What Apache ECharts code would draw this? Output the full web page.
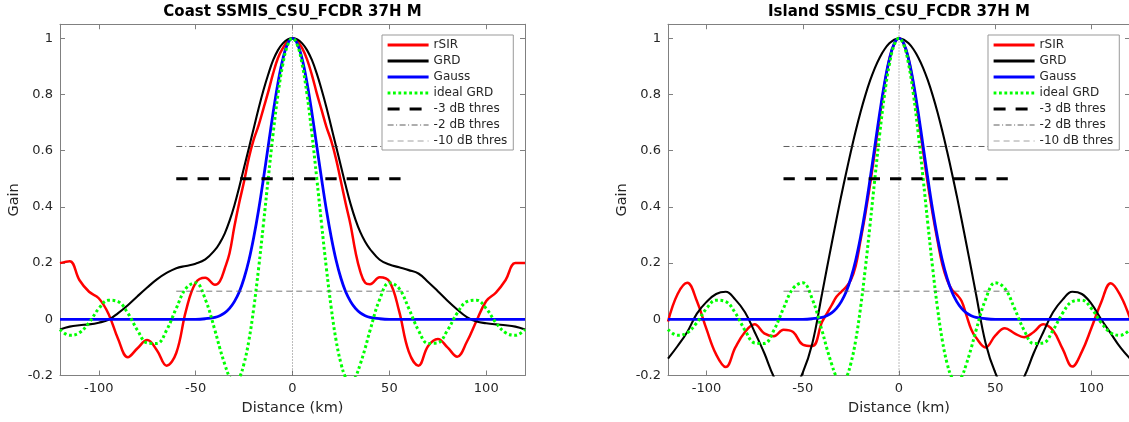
<!DOCTYPE html>
<html><head><meta charset="utf-8">
<script src="https://cdn.jsdelivr.net/npm/echarts@6/dist/echarts.min.js"></script>
<style>html,body{margin:0;padding:0;background:#fff}#c{width:1129px;height:422px}</style>
</head><body><div id="c"></div>
<script>
// ---- data ----
const distance = [-120,-115,-110,-105,-100,-95,-90,-85,-80,-75,-70,-65,-60,-55,-50,-45,-40,
  -37.5,-35,-32.5,-30,-27.5,-25,-22.5,-20,-17.5,-15,-12.5,-10,-7.5,-5,-2.5,0,
  2.5,5,7.5,10,12.5,15,17.5,20,22.5,25,27.5,30,32.5,35,37.5,
  40,45,50,55,60,65,70,75,80,85,90,95,100,105,110,115,120];

const coastRSIR = [0.20,0.207,0.14,0.098,0.075,0.02,-0.07,-0.135,-0.103,-0.074,-0.11,-0.165,-0.12,0.03,0.13,0.148,0.123,
  0.135,0.18,0.235,0.33,0.415,0.49,0.575,0.64,0.69,0.75,0.81,0.875,0.93,0.965,0.99,1,
  0.99,0.965,0.925,0.87,0.805,0.745,0.685,0.635,0.57,0.49,0.41,0.335,0.24,0.17,0.13,
  0.125,0.15,0.135,0.03,-0.115,-0.165,-0.095,-0.07,-0.1,-0.133,-0.08,-0.005,0.065,0.095,0.14,0.2,0.2];

const coastGRD = [-0.036,-0.026,-0.021,-0.018,-0.012,-0.002,0.022,0.05,0.082,0.113,0.142,0.165,0.182,0.19,0.198,0.213,0.247,
  0.272,0.305,0.35,0.405,0.47,0.54,0.61,0.68,0.75,0.815,0.872,0.922,0.958,0.982,0.996,1,
  0.996,0.982,0.958,0.923,0.875,0.818,0.755,0.685,0.615,0.545,0.475,0.41,0.355,0.31,0.276,
  0.25,0.212,0.195,0.185,0.175,0.163,0.133,0.1,0.066,0.035,0.008,-0.008,-0.014,-0.018,-0.021,-0.026,-0.036];

const gauss = [0,0,0,0,0,0,0,0,0,0,0,0,0,0,0,0.002,0.007,
  0.013,0.023,0.039,0.063,0.097,0.146,0.21,0.292,0.389,0.5,0.618,0.735,0.841,0.926,0.981,1,
  0.981,0.926,0.841,0.735,0.618,0.5,0.389,0.292,0.21,0.146,0.097,0.063,0.039,0.023,0.013,
  0.007,0.002,0,0,0,0,0,0,0,0,0,0,0,0,0,0,0];

const idealGRD = [-0.036,-0.057,-0.048,-0.012,0.038,0.068,0.063,0.022,-0.039,-0.084,-0.086,-0.039,0.039,0.11,0.13,0.071,-0.04,
  -0.103,-0.159,-0.205,-0.225,-0.208,-0.157,-0.075,0.04,0.181,0.339,0.503,0.661,0.8,0.907,0.976,1,
  0.976,0.907,0.8,0.661,0.503,0.339,0.181,0.04,-0.075,-0.157,-0.208,-0.225,-0.205,-0.159,-0.103,
  -0.04,0.071,0.13,0.11,0.039,-0.039,-0.086,-0.084,-0.039,0.022,0.063,0.068,0.038,-0.012,-0.048,-0.057,-0.036];

const islandRSIR = [-0.008,0.09,0.13,0.065,-0.035,-0.125,-0.17,-0.1,-0.045,-0.018,-0.05,-0.06,-0.037,-0.045,-0.09,-0.095,-0.01,
  0.02,0.05,0.08,0.098,0.115,0.14,0.19,0.28,0.375,0.48,0.6,0.72,0.835,0.925,0.98,1,
  0.98,0.925,0.835,0.72,0.6,0.48,0.375,0.28,0.195,0.14,0.105,0.088,0.065,0.015,-0.035,
  -0.065,-0.1,-0.058,-0.032,-0.05,-0.064,-0.045,-0.018,-0.04,-0.105,-0.168,-0.115,-0.03,0.06,0.128,0.085,0.004];

const islandGRD = [-0.14,-0.095,-0.045,0.02,0.062,0.09,0.098,0.07,0.025,-0.045,-0.12,-0.205,-0.26,-0.25,-0.19,-0.085,0.09,
  0.18,0.268,0.355,0.44,0.52,0.597,0.67,0.737,0.797,0.85,0.895,0.932,0.961,0.982,0.995,1,
  0.995,0.982,0.961,0.932,0.895,0.85,0.797,0.737,0.67,0.597,0.52,0.44,0.355,0.268,0.18,
  0.09,-0.085,-0.19,-0.25,-0.26,-0.205,-0.12,-0.045,0.025,0.07,0.098,0.09,0.055,0.0,-0.05,-0.1,-0.14];

const thresholdX = [-60, 60];
const thres3dB = [0.5, 0.5];
const thres2dB = [0.615, 0.615];
const thres10dB = [0.1, 0.1];
const zeroLineX = [0, 0];
const zeroLineY = [-0.2, 1.05];

const titles = ['Coast SSMIS_CSU_FCDR 37H M', 'Island SSMIS_CSU_FCDR 37H M'];
const legendNames = ['rSIR', 'GRD', 'Gauss', 'ideal GRD', '-3 dB thres', '-2 dB thres', '-10 dB thres'];
const xLabel = 'Distance (km)';
const yLabel = 'Gain';

// ---- chart ----
const FONT = 'DejaVu Sans';
const TXT = '#262626';
const AX = '#808080';
const gridsPos = [{left: 60, width: 465}, {left: 668, width: 462}];
const TOP = 24.25, HEIGHT = 351.25;

const pairs = (xs, ys) => xs.map((x, i) => [x, ys[i]]);

const xAxes = [], yAxes = [], series = [];
gridsPos.forEach((g, gi) => {
  xAxes.push({
    gridIndex: gi, type: 'value', min: -120, max: 120, splitNumber: 5, position: 'bottom',
    axisLine: {show: true, onZero: false, lineStyle: {color: AX, width: 1}},
    axisTick: {show: true, inside: true, length: 5, lineStyle: {color: AX}},
    axisLabel: {showMinLabel: false, showMaxLabel: false, fontSize: 13, color: TXT, fontFamily: FONT, margin: 7},
    splitLine: {show: false},
    name: xLabel, nameLocation: 'middle', nameGap: 25,
    nameTextStyle: {fontSize: 14.5, color: TXT, fontFamily: FONT}
  });
  xAxes.push({
    gridIndex: gi, type: 'value', min: -120, max: 120, splitNumber: 5, position: 'top',
    axisLine: {show: true, onZero: false, lineStyle: {color: AX, width: 1}},
    axisTick: {show: true, inside: true, length: 5, lineStyle: {color: AX}},
    axisLabel: {show: false}, splitLine: {show: false}
  });
  yAxes.push({
    gridIndex: gi, type: 'value', min: -0.2, max: 1.05, interval: 0.2, position: 'left',
    axisLine: {show: true, onZero: false, lineStyle: {color: AX, width: 1}},
    axisTick: {show: true, inside: true, length: 5, lineStyle: {color: AX}},
    axisLabel: {showMaxLabel: false, fontSize: 13, color: TXT, fontFamily: FONT, margin: 7,
      formatter: v => String(Math.round(v * 10) / 10)},
    splitLine: {show: false},
    name: yLabel, nameLocation: 'middle', nameGap: 38, nameRotate: 90,
    nameTextStyle: {fontSize: 14.5, color: TXT, fontFamily: FONT}
  });
  yAxes.push({
    gridIndex: gi, type: 'value', min: -0.2, max: 1.05, interval: 0.2, position: 'right',
    axisLine: {show: true, onZero: false, lineStyle: {color: AX, width: 1}},
    axisTick: {show: true, inside: true, length: 5, lineStyle: {color: AX}},
    axisLabel: {show: false}, splitLine: {show: false}
  });
});

function line(name, gi, xs, ys, ls, smooth) {
  return {
    name, type: 'line', xAxisIndex: gi * 2, yAxisIndex: gi * 2,
    data: pairs(xs, ys), symbol: 'none', showSymbol: false, smooth: smooth ? 0.4 : false,
    lineStyle: ls, itemStyle: {color: ls.color}, silent: true, animation: false,
    emphasis: {disabled: true}, clip: true
  };
}

const curveSets = [
  {rsir: coastRSIR, grd: coastGRD, gauss: gauss, ideal: idealGRD},
  {rsir: islandRSIR, grd: islandGRD, gauss: gauss, ideal: idealGRD}
];
curveSets.forEach((c, gi) => {
  series.push(line('zero', gi, zeroLineX, zeroLineY, {color: '#555', width: 0.8, type: [1, 2]}, false));
  series.push(line('rSIR', gi, distance, c.rsir, {color: '#ff0000', width: 2.5}, true));
  series.push(line('GRD', gi, distance, c.grd, {color: '#000000', width: 2.1}, true));
  series.push(line('Gauss', gi, distance, c.gauss, {color: '#0000ff', width: 2.8}, true));
  series.push(line('ideal GRD', gi, distance, c.ideal, {color: '#00ff00', width: 3, type: [2.8, 2.6]}, true));
  series.push(line('-3 dB thres', gi, thresholdX, thres3dB, {color: '#000000', width: 3, type: [11.3, 10]}, false));
  series.push(line('-2 dB thres', gi, thresholdX, thres2dB, {color: '#333', width: 0.8, type: [6, 3, 1, 3]}, false));
  series.push(line('-10 dB thres', gi, thresholdX, thres10dB, {color: '#555', width: 0.8, type: [6, 4]}, false));
});

const legendItems = [
  {name: 'rSIR', lineStyle: {width: 3}},
  {name: 'GRD', lineStyle: {width: 3}},
  {name: 'Gauss', lineStyle: {width: 3}},
  {name: 'ideal GRD', lineStyle: {width: 3}},
  {name: '-3 dB thres', lineStyle: {width: 3.2, type: [12, 10]}},
  {name: '-2 dB thres', lineStyle: {width: 0.8, color: '#333', type: [6, 2.5, 1, 2.5]}},
  {name: '-10 dB thres', lineStyle: {width: 0.8, color: '#888', type: [6, 4]}}
];

const legendBase = {
  orient: 'vertical', top: 35, data: legendItems, selectedMode: false,
  backgroundColor: '#fff', borderColor: '#999', borderWidth: 1, borderRadius: 0,
  padding: [4, 6, 3, 4], itemWidth: 41, itemHeight: 12, itemGap: 4,
  itemStyle: {opacity: 0},
  textStyle: {fontSize: 12, color: TXT, fontFamily: FONT}
};

const option = {
  animation: false,
  backgroundColor: '#fff',
  textStyle: {fontFamily: FONT},
  title: titles.map((t, i) => ({
    text: t, left: gridsPos[i].left + gridsPos[i].width / 2, textAlign: 'center', top: 5, padding: 0,
    textStyle: {fontSize: 15, fontWeight: 'bold', color: '#000', fontFamily: FONT}
  })),
  legend: [Object.assign({left: 382}, legendBase), Object.assign({left: 988}, legendBase)],
  grid: gridsPos.map(g => ({left: g.left, width: g.width, top: TOP, height: HEIGHT, containLabel: false, outerBoundsMode: 'none'})),
  xAxis: xAxes, yAxis: yAxes, series
};

const chart = echarts.init(document.getElementById('c'), null, {renderer: 'canvas'});
chart.setOption(option);
</script></body></html>
